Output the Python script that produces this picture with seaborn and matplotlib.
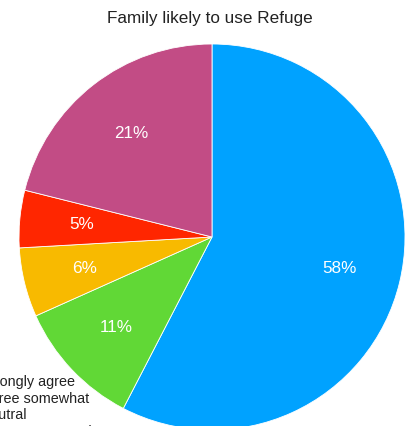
#!/usr/bin/env python3
"""Pie chart: Family likely to use Refuge"""
import matplotlib
matplotlib.use("Agg")
import matplotlib.pyplot as plt
import seaborn as sns

answers = ["Strongly agree", "Agree somewhat", "Neutral",
           "Disagree somewhat", "Strongly disagree"]
shares = [57.6, 10.7, 5.8, 4.8, 21.1]
colors = ["#00A2FF", "#61D836", "#F8BA00", "#FF2600", "#C24C85"]

sns.set_theme(style="white")
plt.rcParams["font.family"] = ["Liberation Sans", "DejaVu Sans"]

fig = plt.figure(figsize=(4.11, 4.26), dpi=100)
W, H = 411, 426
cx, cy, r = 212, 237, 193
ax = fig.add_axes([(cx - r) / W, (H - cy - r) / H, 2 * r / W, 2 * r / H])

wedges, _, autotexts = ax.pie(
    shares, colors=colors, startangle=90, counterclock=False,
    autopct="%1.0f%%", pctdistance=0.68, radius=1,
    wedgeprops=dict(edgecolor="white", linewidth=0.6),
    textprops=dict(color="white", fontsize=12.3),
)
ax.set_xlim(-1, 1)
ax.set_ylim(-1, 1)
ax.set_aspect("equal")
ax.axis("off")

fig.text(210 / W, 1 - 18 / H, "Family likely to use Refuge",
         ha="center", va="center", fontsize=12.3, color="#222222")

# the legend sits mostly off the left edge of the canvas
fig.legend(wedges, answers, loc="upper left",
           bbox_to_anchor=(-41 / W, 1 - 375 / H), frameon=False,
           fontsize=10.4, handlelength=1, handleheight=0.8, handletextpad=0.5,
           borderpad=0, borderaxespad=0, labelspacing=0.18,
           labelcolor="#222222")

fig.savefig("out.png", dpi=100)
